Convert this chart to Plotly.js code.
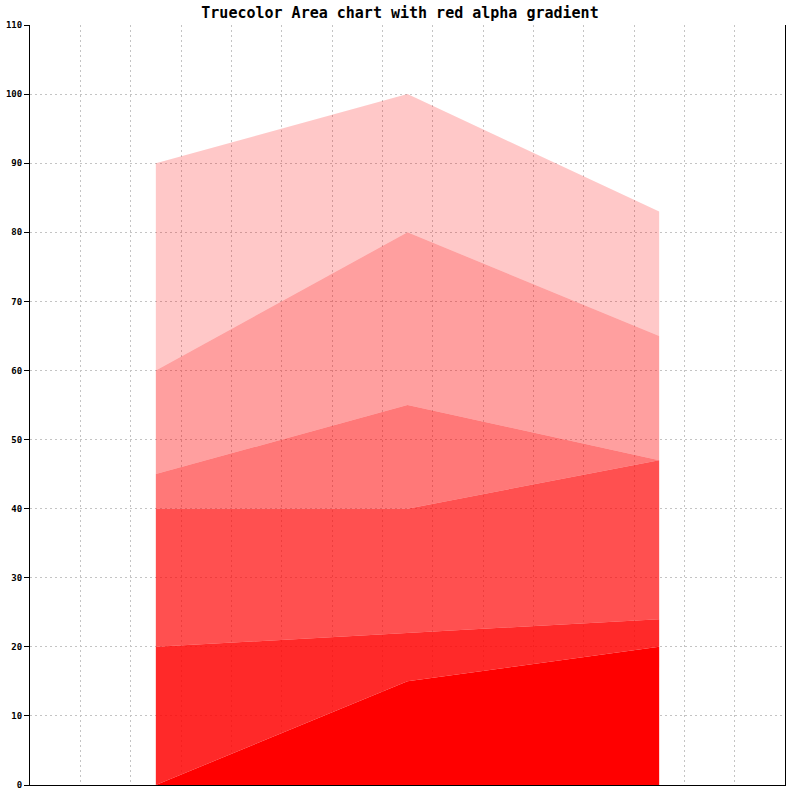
<!DOCTYPE html>
<html>
<head>
<meta charset="utf-8">
<script src="https://cdn.plot.ly/plotly-3.0.1.min.js"></script>
<style>html,body{margin:0;padding:0;background:#fff;}</style>
</head>
<body>
<div id="chart" style="width:800px;height:800px;"></div>
<script>
const categories = [0, 1, 2];
const series1 = [0, 15, 20];
const series2 = [20, 22, 24];
const series3 = [40, 40, 47];
const series4 = [45, 55, 47];
const series5 = [60, 80, 65];
const series6 = [90, 100, 83];
const bandColors = [
  'rgba(255,0,0,1)',
  'rgba(255,0,0,0.84)',
  'rgba(255,0,0,0.686)',
  'rgba(255,0,0,0.53)',
  'rgba(255,0,0,0.376)',
  'rgba(255,0,0,0.216)'
];
const allSeries = [series1, series2, series3, series4, series5, series6];

const traces = allSeries.map((s, i) => ({
  x: categories,
  y: s,
  type: 'scatter',
  mode: 'lines',
  line: {width: 0, color: bandColors[i]},
  fill: i === 0 ? 'tozeroy' : 'tonexty',
  fillcolor: bandColors[i],
  hoverinfo: 'skip',
  showlegend: false
}));

const layout = {
  width: 800, height: 800,
  margin: {l: 30, r: 15, t: 25, b: 15},
  paper_bgcolor: '#fff', plot_bgcolor: '#fff',
  title: {text: '<b>Truecolor Area chart with red alpha gradient</b>', x: 0.5, xanchor: 'center', y: 0.984, yanchor: 'middle',
          font: {family: 'DejaVu Sans Mono, Liberation Mono, monospace', size: 15, color: '#000'}},
  xaxis: {
    range: [-0.5, 2.5], tick0: -0.5, dtick: 0.2, showticklabels: false, ticks: '',
    showgrid: true, gridcolor: '#c4c4c4', griddash: '2px,3px', gridwidth: 1,
    showline: true, linecolor: '#000', linewidth: 1, zeroline: false, fixedrange: true
  },
  yaxis: {
    range: [0, 110], tick0: 0, dtick: 10, ticks: 'outside', ticklen: 5, tickcolor: '#000',
    tickfont: {family: 'DejaVu Sans Mono, monospace', size: 9, color: '#000', weight: 'bold'},
    showgrid: true, gridcolor: '#c4c4c4', griddash: '2px,3px', gridwidth: 1,
    showline: true, linecolor: '#000', linewidth: 1, mirror: true, zeroline: false, fixedrange: true
  }
};

Plotly.newPlot('chart', traces, layout, {displayModeBar: false, staticPlot: true});
</script>
</body>
</html>
